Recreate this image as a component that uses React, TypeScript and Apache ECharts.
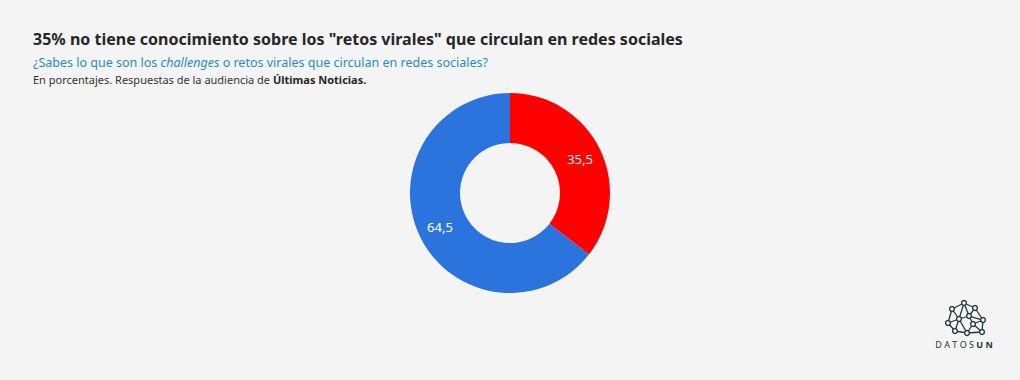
import React, { useEffect, useRef } from "react";
import * as echarts from "echarts";

const categories = ["Sí", "No"];
const values = [64.5, 35.5];
const sliceColors = ["#2c74dd", "#ff0000"];

const titleText = '35% no tiene conocimiento sobre los "retos virales" que circulan en redes sociales';
const subtitleParts = ["¿Sabes lo que son los ", "challenges", " o retos virales que circulan en redes sociales?"];
const noteParts = ["En porcentajes. Respuestas de la audiencia de ", "Últimas Noticias."];

const logoNodes: [number, number][] = [
  [964, 303], [975, 308], [952, 309], [983, 320], [969, 316], [959, 319],
  [948, 323], [973, 324], [967, 333], [955, 331], [982, 332],
];
const logoEdges: [number, number][] = [
  [0, 1], [0, 2], [0, 5], [0, 4], [1, 4], [1, 3], [2, 6], [2, 5], [4, 5], [4, 7],
  [3, 7], [3, 10], [5, 6], [5, 9], [5, 8], [6, 9], [9, 8], [7, 8], [8, 10], [7, 10], [4, 3],
];

export default function App() {
  const ref = useRef<HTMLDivElement>(null);
  useEffect(() => {
    document.body.style.margin = "0";
    const chart = echarts.init(ref.current!, null, { renderer: "svg" });
    const font = "'Source Sans Pro', 'Noto Sans', sans-serif";
    const logoColor = "#26393e";
    const graphics: any[] = [];
    logoEdges.forEach(([a, b]) => {
      graphics.push({
        type: "line",
        shape: { x1: logoNodes[a][0], y1: logoNodes[a][1], x2: logoNodes[b][0], y2: logoNodes[b][1] },
        style: { stroke: logoColor, lineWidth: 1.3 },
        z: 10,
      });
    });
    logoNodes.forEach(([x, y]) => {
      graphics.push({
        type: "circle",
        shape: { cx: x, cy: y, r: 2.4 },
        style: { fill: "#f4f4f4", stroke: logoColor, lineWidth: 1.4 },
        z: 11,
      });
    });
    graphics.push({
      type: "text",
      x: 964,
      y: 344,
      style: {
        text: "{a|D A T O S }{b|U N}",
        align: "center",
        verticalAlign: "middle",
        rich: {
          a: { fontSize: 9, fill: logoColor, fontFamily: "'Noto Sans', sans-serif" },
          b: { fontSize: 9, fill: logoColor, fontWeight: "bold", fontFamily: "'Noto Sans', sans-serif" },
        },
      },
      z: 10,
    });

    chart.setOption({
      animation: false,
      backgroundColor: "#f4f4f4",
      title: [
        {
          text: titleText,
          left: 28,
          top: 26,
          textStyle: { fontSize: 16, fontWeight: "bold", color: "#262626", fontFamily: font },
        },
        {
          text: `{n|${subtitleParts[0]}}{i|${subtitleParts[1]}}{n|${subtitleParts[2]}}`,
          left: 28,
          top: 51,
          textStyle: {
            fontWeight: "normal",
            rich: {
              n: { fontSize: 12.5, color: "#1f8dc9", fontWeight: "normal", fontFamily: font },
              i: { fontSize: 12.5, color: "#1f8dc9", fontStyle: "italic", fontWeight: "normal", fontFamily: font },
            },
          },
        },
        {
          text: `{n|${noteParts[0]}}{b|${noteParts[1]}}`,
          left: 28,
          top: 69,
          textStyle: {
            fontWeight: "normal",
            rich: {
              n: { fontSize: 11, color: "#333333", fontWeight: "normal", fontFamily: font },
              b: { fontSize: 11, color: "#262626", fontWeight: "bold", fontFamily: font },
            },
          },
        },
      ],
      graphic: graphics,
      series: [
        {
          type: "pie",
          center: [510, 193],
          radius: [50, 100],
          clockwise: false,
          startAngle: 90,
          label: {
            show: true,
            position: "inside",
            color: "#ffffff",
            fontSize: 13,
            fontFamily: font,
            formatter: (p: any) => String(p.value).replace(".", ","),
          },
          labelLine: { show: false },
          emphasis: { disabled: true },
          itemStyle: { borderWidth: 0 },
          data: categories.map((c, i) => ({ name: c, value: values[i], itemStyle: { color: sliceColors[i] } })),
        },
      ],
    });
    return () => chart.dispose();
  }, []);
  return <div ref={ref} style={{ width: 1020, height: 380 }} />;
}
